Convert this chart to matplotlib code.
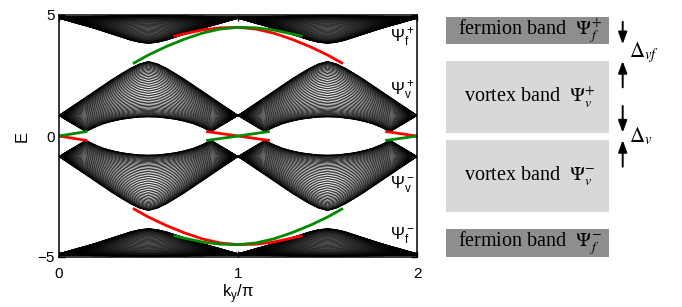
import numpy as np
import matplotlib
matplotlib.use('Agg')
from matplotlib import pyplot as plt

plt.rcParams['font.family'] = ['Liberation Sans', 'DejaVu Sans']

k_period = [0.00, 0.05, 0.10, 0.15, 0.20, 0.25, 0.30, 0.35, 0.40, 0.45, 0.50,
            0.55, 0.60, 0.65, 0.70, 0.75, 0.80, 0.85, 0.90, 0.95, 1.00]

fermion_up_top = [4.93, 4.93, 4.94, 4.94, 4.95, 4.95, 4.96, 4.96, 4.96, 4.97, 4.97,
                  4.97, 4.96, 4.96, 4.96, 4.95, 4.95, 4.94, 4.94, 4.93, 4.93]
fermion_up_bot = [4.86, 4.76, 4.65, 4.55, 4.44, 4.32, 4.20, 4.08, 3.96, 3.87, 3.83,
                  3.87, 3.96, 4.08, 4.20, 4.32, 4.44, 4.55, 4.65, 4.76, 4.86]
vortex_up_top = [0.85, 1.10, 1.35, 1.60, 1.85, 2.10, 2.35, 2.58, 2.80, 2.98, 3.08,
                 2.98, 2.80, 2.58, 2.35, 2.10, 1.85, 1.60, 1.35, 1.10, 0.85]
vortex_up_bot = [0.85, 0.62, 0.40, 0.18, 0.36, 0.51, 0.61, 0.69, 0.74, 0.78, 0.79,
                 0.78, 0.74, 0.69, 0.61, 0.51, 0.36, 0.18, 0.40, 0.62, 0.85]
vortex_dn_top = [-0.85, -0.62, -0.40, -0.18, -0.36, -0.51, -0.61, -0.69, -0.74, -0.78, -0.79,
                 -0.78, -0.74, -0.69, -0.61, -0.51, -0.36, -0.18, -0.40, -0.62, -0.85]
vortex_dn_bot = [-0.85, -1.10, -1.35, -1.60, -1.85, -2.10, -2.35, -2.58, -2.80, -2.98, -3.08,
                 -2.98, -2.80, -2.58, -2.35, -2.10, -1.85, -1.60, -1.35, -1.10, -0.85]
fermion_dn_top = [-4.86, -4.76, -4.65, -4.55, -4.44, -4.32, -4.20, -4.08, -3.96, -3.87, -3.83,
                  -3.87, -3.96, -4.08, -4.20, -4.32, -4.44, -4.55, -4.65, -4.76, -4.86]
fermion_dn_bot = [-4.93, -4.93, -4.94, -4.94, -4.95, -4.95, -4.96, -4.96, -4.96, -4.97, -4.97,
                  -4.97, -4.96, -4.96, -4.96, -4.95, -4.95, -4.94, -4.94, -4.93, -4.93]
n_sub = 50  # sub-bands drawn inside each band

# edge states
red_up_k = [0.648, 0.70, 0.80, 0.90, 1.00, 1.10, 1.20, 1.30, 1.40, 1.50, 1.58]
red_up_E = [4.13, 4.22, 4.38, 4.47, 4.49, 4.42, 4.25, 4.00, 3.70, 3.35, 3.02]
green_up_k = [0.42, 0.50, 0.60, 0.70, 0.80, 0.90, 1.00, 1.10, 1.20, 1.30, 1.352]
green_up_E = [3.02, 3.35, 3.70, 4.00, 4.25, 4.42, 4.49, 4.47, 4.38, 4.22, 4.13]
red_dn_k = [0.42, 0.50, 0.60, 0.70, 0.80, 0.90, 1.00, 1.10, 1.20, 1.30, 1.352]
red_dn_E = [-3.02, -3.35, -3.70, -4.00, -4.25, -4.42, -4.49, -4.47, -4.38, -4.22, -4.13]
green_dn_k = [0.648, 0.70, 0.80, 0.90, 1.00, 1.10, 1.20, 1.30, 1.40, 1.50, 1.58]
green_dn_E = [-4.13, -4.22, -4.38, -4.47, -4.49, -4.42, -4.25, -4.00, -3.70, -3.35, -3.02]
red_zero_k = [[0.00, 0.15], [0.83, 1.00, 1.17], [1.83, 2.00]]
red_zero_E = [[0.00, -0.18], [0.18, 0.00, -0.18], [0.18, 0.00]]
green_zero_k = [[0.00, 0.15], [0.83, 1.00, 1.17], [1.83, 2.00]]
green_zero_E = [[0.00, 0.18], [-0.18, 0.00, 0.18], [-0.18, 0.00]]

psi_labels = [r'$\mathregular{\Psi^+_f}$', r'$\mathregular{\Psi^+_v}$',
              r'$\mathregular{\Psi^-_v}$', r'$\mathregular{\Psi^-_f}$']
psi_E = [4.05, 1.86, -2.02, -4.13]

# schematic on the right
box_lo = [3.79, 0.14, -3.13, -4.99]
box_hi = [4.93, 3.10, -0.165, -3.84]
box_text = [r'fermion band  $\Psi_{\mathit{f}}^{+}$', r'vortex band  $\Psi_{\mathit{v}}^{+}$',
            r'vortex band  $\Psi_{\mathit{v}}^{-}$', r'fermion band  $\Psi_{\mathit{f}}^{-}$']
box_color = ['#8e8e8e', '#d8d8d8', '#d8d8d8', '#8e8e8e']
gap_text = [r'$\Delta_{\mathit{vf}}$', r'$\Delta_{\mathit{v}}$']
gap_down_tail = [4.72, 1.24]
gap_down_tip = [3.79, 0.14]
gap_up_tail = [2.01, -1.27]
gap_up_tip = [3.10, -0.165]


def draw_band(ax, lo, hi):
    k = np.array(k_period)
    lo = np.array(lo)
    hi = np.array(hi)
    mid = (lo + hi) / 2
    half = (hi - lo) / 2
    for th in np.linspace(0, np.pi, n_sub):
        e = mid + half * np.cos(th)
        for shift in (0, 1):
            ax.plot(k + shift, e, color='k', lw=0.55)


fig = plt.figure(figsize=(6.82, 3.07), dpi=100)
ax = fig.add_axes([59 / 682, 50 / 307, 358 / 682, 242 / 307])

for lo, hi in [(fermion_up_bot, fermion_up_top), (vortex_up_bot, vortex_up_top),
               (vortex_dn_bot, vortex_dn_top), (fermion_dn_bot, fermion_dn_top)]:
    draw_band(ax, lo, hi)

lw_edge = 2.0
red = '#ff0000'
green = '#008a00'
ax.plot(red_up_k, red_up_E, color=red, lw=lw_edge)
ax.plot(green_up_k, green_up_E, color=green, lw=lw_edge)
ax.plot(red_dn_k, red_dn_E, color=red, lw=lw_edge)
ax.plot(green_dn_k, green_dn_E, color=green, lw=lw_edge)
for kk, ee in zip(red_zero_k, red_zero_E):
    ax.plot(kk, ee, color=red, lw=lw_edge)
for kk, ee in zip(green_zero_k, green_zero_E):
    ax.plot(kk, ee, color=green, lw=lw_edge)

for lab, e in zip(psi_labels, psi_E):
    ax.text(1.985, e, lab, ha='right', va='center', fontsize=12)

ax.set_xlim(0, 2)
ax.set_ylim(-5, 5)
ax.set_xticks([0, 1, 2])
ax.set_yticks([-5, 0, 5])
ax.tick_params(direction='in', length=4, width=1, top=True, right=True, labelsize=11)
ax.tick_params(axis='x', pad=7)
ax.tick_params(axis='y', pad=3)
for sp in ax.spines.values():
    sp.set_linewidth(1.1)
ax.set_xlabel(r'k$_\mathregular{y}$/$\mathregular{\pi}$', fontsize=12, labelpad=1)
ax.set_ylabel('E', fontsize=12, labelpad=6)

ax2 = fig.add_axes([446 / 682, 50 / 307, 163 / 682, 242 / 307])
ax2.set_xlim(0, 1)
ax2.set_ylim(-5, 5)
ax2.axis('off')
heights = np.array(box_hi) - np.array(box_lo)
ax2.bar([0.5] * 4, heights, bottom=box_lo, width=1.0, color=box_color)
for lo, hi, t in zip(box_lo, box_hi, box_text):
    ax2.text(0.515, (lo + hi) / 2, t, ha='center', va='center', fontsize=14.5,
             family='Liberation Serif', math_fontfamily='stix')

arrow = dict(arrowstyle='-|>,head_length=0.6,head_width=0.22', color='k', lw=1.4,
             shrinkA=0, shrinkB=0, mutation_scale=12)
for i in range(2):
    ax2.annotate('', xy=(1.084, gap_down_tip[i]), xytext=(1.084, gap_down_tail[i]),
                 arrowprops=arrow, annotation_clip=False)
    ax2.annotate('', xy=(1.084, gap_up_tip[i]), xytext=(1.084, gap_up_tail[i]),
                 arrowprops=arrow, annotation_clip=False)
    ax2.text(1.12, (gap_down_tip[i] + gap_up_tip[i]) / 2, gap_text[i], ha='left',
             va='center', fontsize=15, math_fontfamily='stix', clip_on=False)

fig.savefig('out.png', dpi=100)
